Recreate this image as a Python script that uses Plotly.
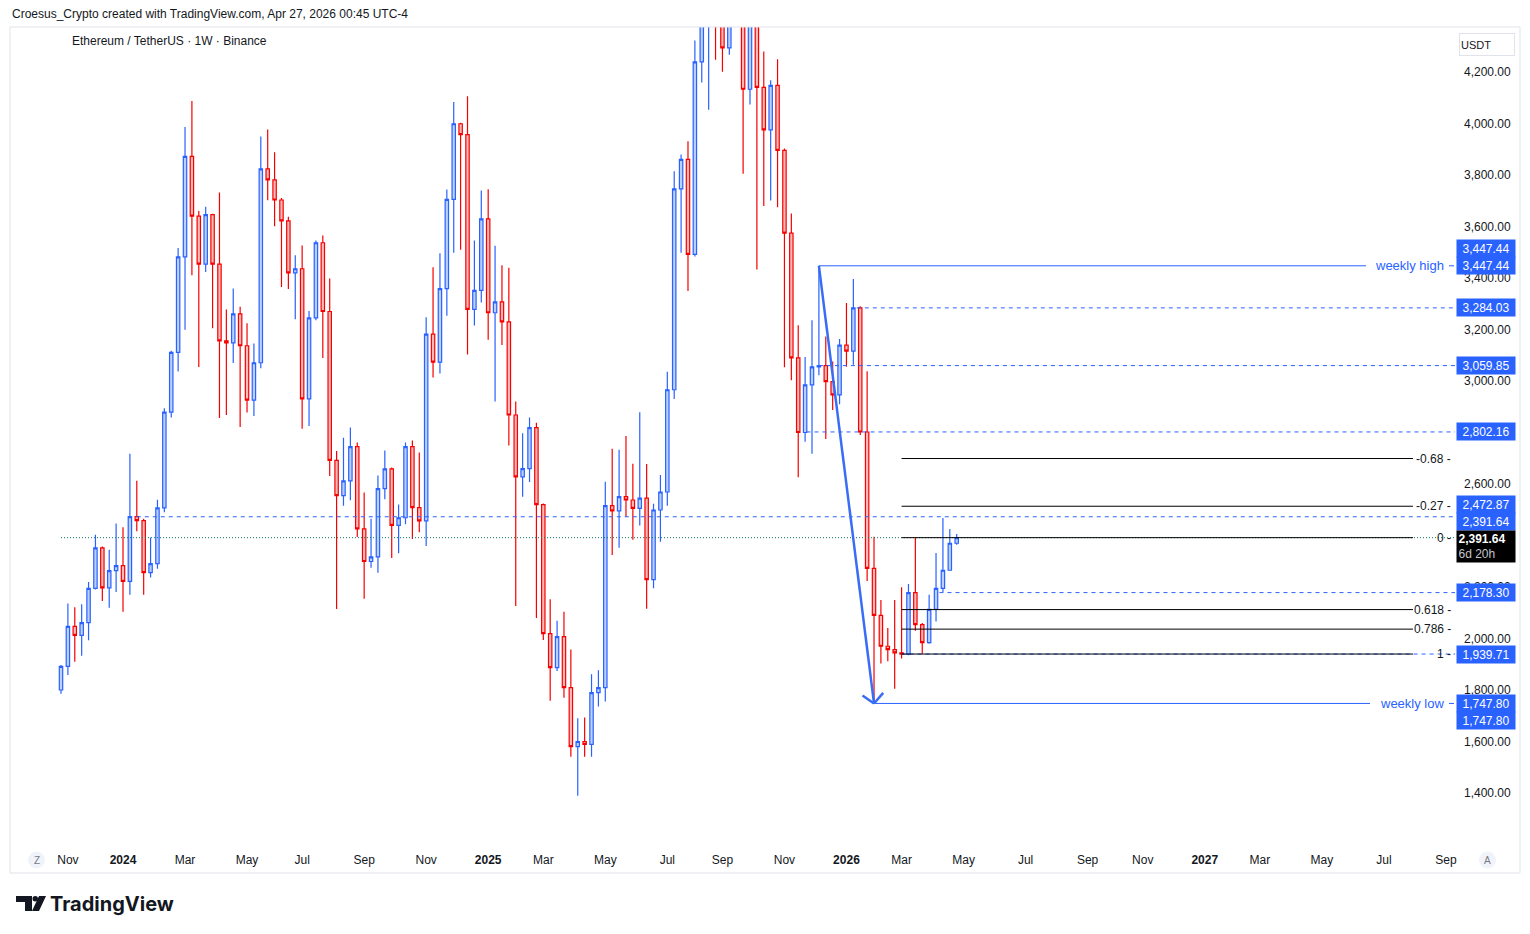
import math
import pandas as pd
import plotly.graph_objects as go

# ---------------- data (weekly ETH/USDT, Binance) ----------------
opens = [1800, 1892, 2047, 2012, 2062, 2195, 2352, 2197, 2264, 2283,
         2222, 2473, 2458, 2256, 2291, 2507, 2879, 3111, 3482, 3872,
         3640, 3454, 3646, 3454, 3156, 3148, 3261, 3137, 2926, 3071,
         3824, 3781, 3703, 3622, 3420, 3436, 2931, 3245, 3537, 3270,
         2692, 2555, 2612, 2745, 2426, 2299, 2317, 2582, 2659, 2439,
         2469, 2745, 2508, 2457, 3182, 3073, 3359, 3705, 3999, 3957,
         3278, 3352, 3630, 3265, 3307, 3230, 2868, 2628, 2660, 2819,
         2520, 2019, 1887, 2007, 1809, 1580, 1600, 1589, 1790, 1809,
         2516, 2496, 2551, 2538, 2505, 2545, 2229, 2499, 2569, 2966,
         3746, 3861, 3492, 4239, 4475, 4780, 4390, 4294, 4600, 4450,
         4133, 4510, 4140, 3975, 4148, 3896, 3574, 3090, 2800, 2985,
         3055, 3059.85, 2998, 2946, 3139, 3116, 3284.03, 2802, 2272, 2090,
         1970, 1957, 1944, 1939.71, 2178.30, 2054, 1984, 2113, 2195, 2265,
         2370]
highs = [1897, 2136, 2121, 2133, 2219, 2403, 2357, 2345, 2447, 2432,
         2718, 2613, 2465, 2392, 2539, 2894, 3118, 3517, 3986, 4087,
         3660, 3677, 3650, 3732, 3278, 3359, 3288, 3224, 3146, 3950,
         3977, 3888, 3711, 3638, 3488, 3526, 3272, 3546, 3565, 3398,
         2728, 2780, 2819, 2761, 2567, 2465, 2633, 2730, 2664, 2520,
         2761, 2769, 2722, 3248, 3442, 3496, 3744, 4084, 4003, 4106,
         3546, 3740, 3745, 3525, 3450, 3440, 2920, 2797, 2858, 2838,
         2524, 2152, 2069, 2104, 1957, 1690, 1693, 1861, 1877, 2609,
         2737, 2733, 2786, 2679, 2879, 2678, 2523, 2635, 3036, 3815,
         3880, 3931, 4322, 4790, 4955, 4800, 4490, 4770, 4680, 4470,
         4590, 4750, 4280, 4168, 4250, 3903, 3651, 3217, 3093, 3236,
         3447.44, 3173, 3076, 3163, 3303, 3396, 3290, 3038, 2395, 2150,
         2041, 2150, 2199, 2212, 2390, 2060, 2170, 2332, 2468, 2425,
         2406]
lows = [1785, 1858, 1910, 1933, 1993, 2190, 2146, 2119, 2181, 2104,
        2170, 2417, 2170, 2237, 2271, 2490, 2858, 3037, 3199, 3411,
        3054, 3423, 3205, 2856, 2868, 3070, 2821, 2878, 2864, 3050,
        3702, 3601, 3365, 3357, 3240, 2815, 2825, 3236, 3089, 2631,
        2115, 2516, 2537, 2394, 2154, 2275, 2255, 2541, 2313, 2331,
        2444, 2386, 2413, 2359, 3014, 3029, 3253, 3498, 3510, 3103,
        3216, 3305, 3160, 2920, 3140, 2750, 2126, 2551, 2608, 2080,
        1994, 1758, 1874, 1770, 1541, 1389, 1541, 1541, 1736, 1755,
        2324, 2352, 2473, 2384, 2439, 2116, 2195, 2376, 2516, 2930,
        3498, 3350, 3484, 4159, 4053, 4248, 4201, 4267, 4430, 3805,
        4074, 3433, 3680, 3701, 3675, 3053, 3003, 2626, 2764, 2718,
        3022, 2775, 2887, 2910, 3055, 3063, 2790, 2223, 1747.80, 1903,
        1912, 1805, 1922, 1935, 2030, 1941, 1980, 2066, 2181, 2263,
        2364]
closes = opens[1:] + [2391.64]

dates = pd.date_range("2023-10-30", periods=len(opens), freq="7D")

tick_dates = ["2023-11-06", "2024-01-01", "2024-03-04", "2024-05-06", "2024-07-01",
              "2024-09-02", "2024-11-04", "2025-01-06", "2025-03-03", "2025-05-05",
              "2025-07-07", "2025-09-01", "2025-11-03", "2026-01-05", "2026-03-02",
              "2026-05-04", "2026-07-06", "2026-09-07", "2026-11-02", "2027-01-04",
              "2027-03-01", "2027-05-03", "2027-07-05", "2027-09-06"]
tick_labels = ["Nov", "2024", "Mar", "May", "Jul", "Sep", "Nov", "2025", "Mar", "May",
               "Jul", "Sep", "Nov", "2026", "Mar", "May", "Jul", "Sep", "Nov", "2027",
               "Mar", "May", "Jul", "Sep"]
# 2,400 and 2,800 are hidden behind the price labels in the original
price_ticks = [1400, 1600, 1800, 2000, 2200, 2600, 3000, 3200,
               3400, 3600, 3800, 4000, 4200]

# horizontal drawn levels (dashed rays) and the bar index where each starts
ray_levels = [3284.03, 3059.85, 2802.16, 2472.87, 2178.30, 1939.71]
ray_start_bar = [115.5, 110, 108.2, 11, 127.5, 122]

# fibonacci retracement
fib_top, fib_bottom = 2391.64, 1939.71
fib_ratios = [-0.68, -0.27, 0, 0.618, 0.786, 1]
fib_names = ["-0.68", "-0.27", "0", "0.618", "0.786", "1"]

# price-scale labels: (text, price, vertical offset px)
scale_labels = [("3,447.44", 3447.44, 17), ("3,447.44", 3447.44, 0),
                ("3,284.03", 3284.03, 0), ("3,059.85", 3059.85, 0),
                ("2,802.16", 2802.16, 0), ("2,472.87", 2472.87, 12),
                ("2,391.64", 2391.64, 16), ("2,178.30", 2178.30, 0),
                ("1,939.71", 1939.71, 0), ("1,747.80", 1747.80, 0),
                ("1,747.80", 1747.80, -17)]
last_price = closes[-1]
hi_idx, lo_idx = 110, 118

# ---------------- geometry helpers ----------------
W, H = 1530, 934
L, R, T, B = 10, 1455, 27, 845        # plot area in px
YMIN, YMAX = 1198.1, 4374.8
PX0, PXW = 61.0, 6.89                 # px of first bar, px per week


def px2date(px):
    return dates[0] + pd.Timedelta(days=(px - PX0) / PXW * 7)


def bar2date(i):
    return px2date(PX0 + i * PXW)


def date2px(d):
    return PX0 + (pd.Timestamp(d) - dates[0]).total_seconds() / 86400 / 7 * PXW


def price2py(p):
    return B - (p - YMIN) / (YMAX - YMIN) * (B - T)


def py2price(py):
    return YMIN + (B - py) / (B - T) * (YMAX - YMIN)


def xp(px):
    return (px - L) / (R - L)


def yp(py):
    return (B - py) / (B - T)


def iso(d):
    return pd.Timestamp(d).isoformat()


BLUE = "#2962ff"
FONT = "Liberation Sans, Arial, sans-serif"
TXT = "#131722"

fig = go.Figure()
fig.add_trace(go.Candlestick(
    x=dates, open=opens, high=highs, low=lows, close=closes,
    increasing=dict(line=dict(color=BLUE, width=1.2), fillcolor="#bcd0fc"),
    decreasing=dict(line=dict(color="#f70000", width=1.2), fillcolor="#fbbaba"),
    whiskerwidth=0, showlegend=False, hoverinfo="skip"))

shapes = []
annots = []

# current price dotted line
shapes.append(dict(type="line", xref="x", yref="y", x0=iso(dates[0]), x1=iso(px2date(R)),
                   y0=last_price, y1=last_price,
                   line=dict(color="#137a62", width=1, dash="1px,2px")))

# dashed horizontal rays
for lvl, sb in zip(ray_levels, ray_start_bar):
    shapes.append(dict(type="line", xref="x", yref="y", x0=iso(bar2date(sb)), x1=iso(px2date(R)),
                       y0=lvl, y1=lvl, line=dict(color=BLUE, width=1, dash="4px,4px")))

# fib lines
for r, name in zip(fib_ratios, fib_names):
    lvl = fib_top - r * (fib_top - fib_bottom)
    shapes.append(dict(type="line", xref="x", yref="y", x0=iso(bar2date(122)), x1=iso(px2date(1413)),
                       y0=lvl, y1=lvl, line=dict(color="#000000", width=1)))
    annots.append(dict(x=xp(1453), y=lvl, xref="paper", yref="y", xanchor="right", yanchor="middle",
                       text=name + " -", showarrow=False, font=dict(family=FONT, size=12, color=TXT)))

# weekly high / low lines
hi_p, lo_p = highs[hi_idx], lows[lo_idx]
shapes.append(dict(type="line", xref="x", yref="y", x0=iso(dates[hi_idx]), x1=iso(px2date(1366)),
                   y0=hi_p, y1=hi_p, line=dict(color=BLUE, width=1)))
shapes.append(dict(type="line", xref="x", yref="y", x0=iso(dates[lo_idx]), x1=iso(px2date(1370)),
                   y0=lo_p, y1=lo_p, line=dict(color=BLUE, width=1)))
for p, txt in ((hi_p, "weekly high"), (lo_p, "weekly low")):
    annots.append(dict(x=xp(1446), y=p, xref="paper", yref="y", xanchor="right", yanchor="middle",
                       text=txt, showarrow=False, font=dict(family=FONT, size=13, color=BLUE)))
    shapes.append(dict(type="line", xref="paper", yref="y", x0=xp(1449), x1=xp(1454),
                       y0=p, y1=p, line=dict(color=BLUE, width=1)))

# arrow from weekly high to weekly low
sx, sy = date2px(dates[hi_idx]), price2py(hi_p)
ex, ey = date2px(dates[lo_idx]), price2py(lo_p)
shapes.append(dict(type="line", xref="x", yref="y", x0=iso(dates[hi_idx]), y0=hi_p,
                   x1=iso(dates[lo_idx]), y1=lo_p, line=dict(color="#3a6df5", width=2.5)))
ang = math.atan2(sy - ey, sx - ex)
for da in (-0.84, 0.84):
    ax_ = ex + 14 * math.cos(ang + da)
    ay_ = ey + 14 * math.sin(ang + da)
    shapes.append(dict(type="line", xref="x", yref="y", x0=iso(dates[lo_idx]), y0=lo_p,
                       x1=iso(px2date(ax_)), y1=py2price(ay_), line=dict(color="#3a6df5", width=2.5)))

# price scale labels
for txt, p, dy in scale_labels:
    annots.append(dict(x=xp(1456), y=p, xref="paper", yref="y", xanchor="left", yanchor="middle",
                       yshift=dy, text=txt, showarrow=False, bgcolor=BLUE, width=55, height=14,
                       borderpad=1.5, font=dict(family=FONT, size=12, color="white")))
annots.append(dict(x=xp(1456), y=last_price, xref="paper", yref="y", xanchor="left", yanchor="middle",
                   yshift=-9, text="<b>2,391.64</b><br><span style='color:#c4c7cf'>6d 20h</span>",
                   showarrow=False, bgcolor="#000000", width=55, height=28, borderpad=1.5, align="left",
                   font=dict(family=FONT, size=12, color="white")))

# USDT box
annots.append(dict(x=xp(1459), y=yp(44), xref="paper", yref="paper", xanchor="left", yanchor="middle",
                   text="USDT", showarrow=False, width=52, height=19, bgcolor="white",
                   bordercolor="#e0e3eb", borderwidth=1, align="left",
                   font=dict(family=FONT, size=11, color=TXT)))

# header texts
annots.append(dict(x=xp(10), y=yp(14), xref="paper", yref="paper", xanchor="left", yanchor="middle",
                   text="Croesus_Crypto created with TradingView.com, Apr 27, 2026 00:45 UTC-4",
                   showarrow=False, font=dict(family=FONT, size=12, color=TXT)))
annots.append(dict(x=xp(70), y=yp(41), xref="paper", yref="paper", xanchor="left", yanchor="middle",
                   text="Ethereum / TetherUS · 1W · Binance",
                   showarrow=False, font=dict(family=FONT, size=12, color=TXT)))

# Z / A buttons
for cx, lab in ((36.5, "Z"), (1487.5, "A")):
    shapes.append(dict(type="circle", xref="paper", yref="paper", x0=xp(cx - 8.5), x1=xp(cx + 8.5),
                       y0=yp(868.5), y1=yp(851.5), fillcolor="#f0f3fa", line=dict(width=0)))
    annots.append(dict(x=xp(cx), y=yp(860), xref="paper", yref="paper", xanchor="center",
                       yanchor="middle", text=lab, showarrow=False,
                       font=dict(family=FONT, size=10, color="#787b86")))

# frame
shapes.append(dict(type="rect", xref="paper", yref="paper", x0=xp(10), x1=xp(1520), y0=yp(873), y1=yp(27),
                   line=dict(color="#e0e3eb", width=1)))

# TradingView logo
shapes.append(dict(type="path", xref="paper", yref="paper", fillcolor="#131722", line=dict(width=0),
                   path="M {} {} L {} {} L {} {} L {} {} L {} {} L {} {} Z".format(
                       xp(16), yp(896), xp(32), yp(896), xp(32), yp(911), xp(25), yp(911),
                       xp(25), yp(902), xp(16), yp(902))))
shapes.append(dict(type="circle", xref="paper", yref="paper", fillcolor="#131722", line=dict(width=0),
                   x0=xp(32.5), x1=xp(38), y0=yp(901.5), y1=yp(896)))
shapes.append(dict(type="path", xref="paper", yref="paper", fillcolor="#131722", line=dict(width=0),
                   path="M {} {} L {} {} L {} {} L {} {} Z".format(
                       xp(39), yp(896), xp(46), yp(896), xp(39), yp(911), xp(32), yp(911))))
annots.append(dict(x=xp(48), y=yp(904), xref="paper", yref="paper", xanchor="left", yanchor="middle",
                   text="<b>TradingView</b>", showarrow=False,
                   font=dict(family="Inter, Liberation Sans, sans-serif", size=20, color="#131722")))

ticktext = ["<b>%s</b>" % t if t.isdigit() else t for t in tick_labels]

fig.update_layout(
    width=W, height=H, margin=dict(l=L, r=W - R, t=T, b=H - B),
    paper_bgcolor="white", plot_bgcolor="white",
    shapes=shapes, annotations=annots, showlegend=False,
    font=dict(family=FONT, size=12, color=TXT),
    xaxis=dict(type="date", range=[iso(px2date(L)), iso(px2date(R))],
               rangeslider=dict(visible=False), showgrid=False, zeroline=False, showline=False,
               tickmode="array", tickvals=tick_dates, ticktext=ticktext, ticks="",
               ticklabelstandoff=6, tickfont=dict(family=FONT, size=12, color=TXT)),
    yaxis=dict(side="right", range=[YMIN, YMAX], showgrid=False, zeroline=False, showline=False,
               tickmode="array", tickvals=price_ticks, tickformat=",.2f", ticks="",
               ticklabelstandoff=8, tickfont=dict(family=FONT, size=12, color=TXT)),
)

fig.write_html("out.html")
